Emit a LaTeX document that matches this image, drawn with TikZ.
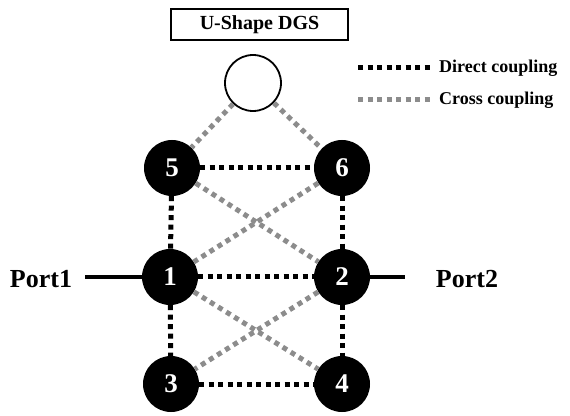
\documentclass[tikz,border=0pt]{standalone}
\usepackage{fontspec}
\setmainfont{Liberation Serif}
\begin{document}
\begin{tikzpicture}[x=1pt,y=1pt,
  res/.style={circle,fill=black,minimum size=56pt,inner sep=0pt,text=white,font=\fontsize{27}{27}\selectfont\bfseries},
  direct/.style={line width=5pt,dash pattern=on 5pt off 4.5pt,black},
  cross/.style={line width=5pt,dash pattern=on 5pt off 4.5pt,color=black!45},
  port/.style={line width=4pt},
  lbl/.style={font=\fontsize{26}{26}\selectfont\bfseries,inner sep=0pt},
  leg/.style={font=\fontsize{18}{18}\selectfont\bfseries,inner sep=0pt,anchor=west}]
\useasboundingbox (0,0) rectangle (570,415);
% title box
\node[draw,line width=1.8pt,minimum width=177pt,minimum height=31pt,inner sep=0pt,font=\fontsize{20}{20}\selectfont\bfseries] (title) at (259.5,390.5) {U-Shape DGS};
% open resonator
\node[circle,draw,line width=1.8pt,minimum size=56pt,inner sep=0pt] (o) at (253,332) {};
% resonators
\node[res] (n5) at (172,247) {5};
\node[res] (n6) at (342,247) {6};
\node[res] (n1) at (170,138) {1};
\node[res] (n2) at (342,138) {2};
\node[res] (n3) at (171,31) {3};
\node[res] (n4) at (342,31) {4};
% couplings
\draw[cross] (o) -- (n5);
\draw[cross] (o) -- (n6);
\draw[cross] (n5) -- (n2);
\draw[cross] (n6) -- (n1);
\draw[cross] (n1) -- (n4);
\draw[cross] (n2) -- (n3);
\draw[direct] (n5) -- (n6);
\draw[direct] (n5) -- (n1);
\draw[direct] (n6) -- (n2);
\draw[direct] (n1) -- (n2);
\draw[direct] (n1) -- (n3);
\draw[direct] (n2) -- (n4);
\draw[direct] (n3) -- (n4);
% ports
\coordinate (p1end) at (85,138);
\coordinate (p2end) at (405,138);
\draw[port] (p1end) -- (n1);
\draw[port] (n2) -- (p2end);
\node[lbl] (p1) at (41,136) {Port1};
\node[lbl] (p2) at (467,136) {Port2};
% legend
\coordinate (l1a) at (358,347);
\coordinate (l1b) at (433,347);
\coordinate (l2a) at (358,315);
\coordinate (l2b) at (433,315);
\draw[direct] (l1a) -- (l1b);
\draw[cross] (l2a) -- (l2b);
\node[leg] (t1) at (439,347) {Direct coupling};
\node[leg] (t2) at (439,315) {Cross coupling};
\end{tikzpicture}
\end{document}
